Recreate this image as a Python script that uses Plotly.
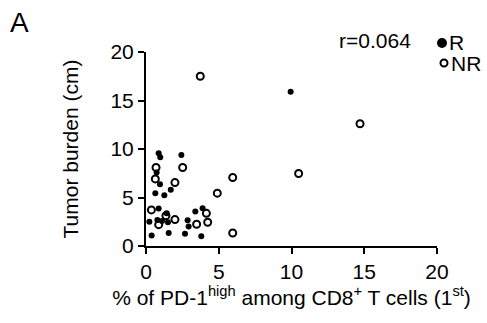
import plotly.graph_objects as go

# Data
r_x = [0.23, 0.39, 0.87, 0.98, 0.73, 0.96, 0.64, 0.87, 0.78, 1.10, 1.26, 1.70,
       1.42, 1.51, 1.56, 2.43, 2.68, 2.86, 2.93, 3.39, 3.89, 3.80, 9.94]
r_y = [2.50, 1.07, 9.57, 9.16, 7.58, 6.37, 5.44, 3.86, 2.68, 2.58, 5.23, 5.80,
       3.37, 2.44, 1.34, 9.37, 1.27, 2.65, 2.00, 3.55, 3.89, 1.00, 15.9]

nr_x = [0.37, 0.69, 0.64, 0.87, 1.37, 1.99, 1.99, 2.52, 3.73, 3.48, 4.15, 4.24,
        4.90, 5.96, 5.96, 10.49, 14.71]
nr_y = [3.72, 8.09, 6.92, 2.20, 3.13, 2.72, 6.54, 8.09, 17.5, 2.24, 3.37, 2.45,
        5.45, 7.06, 1.34, 7.47, 12.6]

tick_vals = [0, 5, 10, 15, 20]
tick_text = ["0", "5", "10", "15", "20"]

FONT = "Liberation Sans, Arial, sans-serif"
FS = 21

fig = go.Figure()
fig.add_trace(go.Scatter(
    x=r_x, y=r_y, mode="markers", name="R", showlegend=False, cliponaxis=False,
    marker=dict(symbol="circle", size=6, color="black", line=dict(width=0))))
fig.add_trace(go.Scatter(
    x=nr_x, y=nr_y, mode="markers", name="NR", showlegend=False, cliponaxis=False,
    marker=dict(symbol="circle-open", size=7, color="black", line=dict(width=2, color="black"))))

axis_common = dict(
    range=[0, 20], tickvals=tick_vals, ticktext=tick_text,
    showgrid=False, zeroline=False, showline=True, linecolor="black", linewidth=2,
    ticks="outside", ticklen=6, tickwidth=2, tickcolor="black",
    tickfont=dict(family=FONT, size=FS, color="black"),
)

fig.update_layout(
    width=487, height=323,
    margin=dict(l=146, r=50, t=52, b=77),
    paper_bgcolor="white", plot_bgcolor="white",
    font=dict(family=FONT, color="black"),
    xaxis=dict(**axis_common,
               title=dict(text="% of PD-1<sup>high</sup> among CD8<sup>+</sup> T cells (1<sup>st</sup>)",
                          font=dict(family=FONT, size=FS, color="black"), standoff=7)),
    yaxis=dict(**axis_common,
               title=dict(text="Tumor burden (cm)",
                          font=dict(family=FONT, size=FS, color="black"), standoff=26)),
)

# Panel label
fig.add_annotation(text="A", xref="paper", yref="paper", x=(8 - 146) / 291, y=(246 - 5) / 194,
                   xanchor="left", yanchor="top", showarrow=False,
                   font=dict(family=FONT, size=28, color="black"))

# r value
fig.add_annotation(text="r=0.064", xref="paper", yref="paper", x=(374.5 - 146) / 291,
                   y=(246 - 40) / 194, xanchor="center", yanchor="middle", showarrow=False,
                   font=dict(family=FONT, size=FS, color="black"))

# Legend (symbols as shapes, labels as text)
fig.add_shape(type="circle", xref="paper", yref="paper", xsizemode="pixel", ysizemode="pixel",
              xanchor=(442 - 146) / 291, yanchor=(246 - 43) / 194,
              x0=-5, x1=5, y0=-5, y1=5, fillcolor="black", line=dict(width=0))
fig.add_annotation(text="R", xref="paper", yref="paper", x=(447 - 146) / 291,
                   y=(246 - 43) / 194, xanchor="left", yanchor="middle", showarrow=False,
                   font=dict(family=FONT, size=FS, color="black"))
fig.add_shape(type="circle", xref="paper", yref="paper", xsizemode="pixel", ysizemode="pixel",
              xanchor=(444 - 146) / 291, yanchor=(246 - 63) / 194,
              x0=-3.5, x1=3.5, y0=-3.5, y1=3.5, fillcolor="white",
              line=dict(width=2, color="black"))
fig.add_annotation(text="NR", xref="paper", yref="paper", x=(449 - 146) / 291,
                   y=(246 - 63) / 194, xanchor="left", yanchor="middle", showarrow=False,
                   font=dict(family=FONT, size=FS, color="black"))

fig.write_html("out.html")
